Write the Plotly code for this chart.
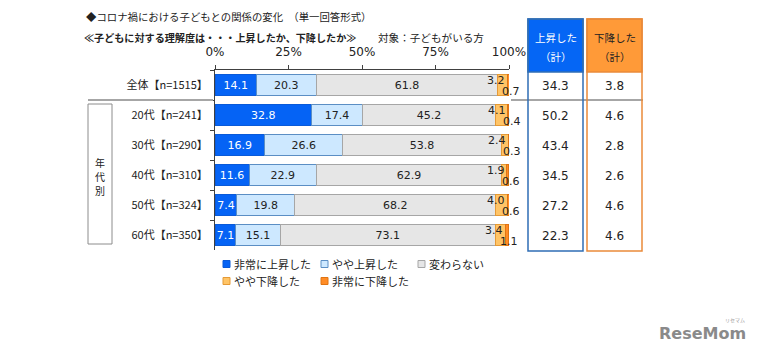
import plotly.graph_objects as go

# ---------------- data ----------------
categories = ["全体【n=1515】", "20代【n=241】", "30代【n=290】",
              "40代【n=310】", "50代【n=324】", "60代【n=350】"]
series_names = ["非常に上昇した", "やや上昇した", "変わらない", "やや下降した", "非常に下降した"]
very_up = [14.1, 32.8, 16.9, 11.6, 7.4, 7.1]
slightly_up = [20.3, 17.4, 26.6, 22.9, 19.8, 15.1]
no_change = [61.8, 45.2, 53.8, 62.9, 68.2, 73.1]
slightly_down = [3.2, 4.1, 2.4, 1.9, 4.0, 3.4]
very_down = [0.7, 0.4, 0.3, 0.6, 0.6, 1.1]
up_total = [34.3, 50.2, 43.4, 34.5, 27.2, 22.3]
down_total = [3.8, 4.6, 2.8, 2.6, 4.6, 4.6]
x_tick_vals = [0, 25, 50, 75, 100]
x_tick_labels = ["0%", "25%", "50%", "75%", "100%"]
title_line1 = "◆コロナ禍における子どもとの関係の変化　（単一回答形式）"
title_line2 = "≪子どもに対する理解度は・・・上昇したか、下降したか≫"
target_text = "対象：子どもがいる方"
group_label = "年代別"
up_header = ["上昇した", "（計）"]
down_header = ["下降した", "（計）"]

# ---------------- styles ----------------
W_FIG, H_FIG = 767, 356
PL, PR, PT, PB = 215, 509, 70, 250  # plot area in pixels
PW, PH = PR - PL, PB - PT

JP = "Noto Sans CJK JP, Meiryo, sans-serif"
NUM = "Verdana, DejaVu Sans, sans-serif"

fills = ["#0563F5", "#CDE8FF", "#E6E6E6", "#FFC466", "#FF8C26"]
borders = ["#0A5AD8", "#5B8EC4", "#A6A6A6", "#E59A36", "#E07412"]
text_colors = ["white", "#222222", "#222222", "#222222", "#222222"]
BLUE_HEAD = "#0566F5"
BLUE_LINE = "#2F6DB5"
ORANGE_HEAD = "#FF9A38"
ORANGE_LINE = "#EA8A3A"


def px_x(p):
    return (p - PL) / PW


def px_y(p):
    return (PB - p) / PH


all_series = [very_up, slightly_up, no_change, slightly_down, very_down]

fig = go.Figure()
for name, vals, fc, bc, tc in zip(series_names, all_series, fills, borders, text_colors):
    fig.add_trace(go.Bar(
        y=categories, x=vals, name=name, orientation="h",
        marker=dict(color=fc, line=dict(color=bc, width=1)),
        text=[f"{v:.1f}" if v >= 5 else "" for v in vals],
        textposition="inside", insidetextanchor="middle", textangle=0,
        textfont=dict(family=NUM, size=11, color=tc),
        showlegend=False, hoverinfo="skip",
    ))

annotations = []
shapes = []

# small orange values
for i, cat in enumerate(categories):
    cum = very_up[i] + slightly_up[i] + no_change[i] + slightly_down[i]
    annotations.append(dict(x=cum, y=cat, xref="x", yref="y", text=f"{slightly_down[i]:.1f}",
                            showarrow=False, xanchor="right", yanchor="middle",
                            xshift=0, yshift=5,
                            font=dict(family=NUM, size=11, color="#222222")))
    annotations.append(dict(x=cum, y=cat, xref="x", yref="y", text=f"{very_down[i]:.1f}",
                            showarrow=False, xanchor="left", yanchor="middle",
                            xshift=-7, yshift=-6,
                            font=dict(family=NUM, size=11, color="#222222")))

# titles
annotations.append(dict(x=px_x(84), y=px_y(17), xref="paper", yref="paper", text=title_line1,
                        showarrow=False, xanchor="left", yanchor="middle",
                        font=dict(family=JP, size=10.4, color="#222222")))
annotations.append(dict(x=px_x(82), y=px_y(37), xref="paper", yref="paper",
                        text=f"<b>{title_line2}</b>",
                        showarrow=False, xanchor="left", yanchor="middle",
                        font=dict(family=JP, size=10.1, color="#222222")))
annotations.append(dict(x=px_x(376), y=px_y(37), xref="paper", yref="paper", text=target_text,
                        showarrow=False, xanchor="left", yanchor="middle",
                        font=dict(family=JP, size=10.6, color="#222222")))

# separator line after 全体
shapes.append(dict(type="line", xref="paper", yref="paper",
                   x0=px_x(88), x1=px_x(213), y0=px_y(100), y1=px_y(100),
                   line=dict(color="#A6A6A6", width=2)))
shapes.append(dict(type="line", xref="paper", yref="paper",
                   x0=px_x(511), x1=px_x(643), y0=px_y(100), y1=px_y(100),
                   line=dict(color="#A6A6A6", width=2)))

# group box
shapes.append(dict(type="rect", xref="paper", yref="paper",
                   x0=px_x(88), x1=px_x(112), y0=px_y(104), y1=px_y(244),
                   line=dict(color="#8C8C8C", width=1)))
for k, ch in enumerate(group_label):
    annotations.append(dict(x=px_x(100), y=px_y(162 + 14 * k), xref="paper", yref="paper",
                            text=ch, showarrow=False, borderpad=0,
                            xanchor="center", yanchor="middle",
                            font=dict(family=JP, size=10, color="#222222")))

# summary table columns
cols = [(528, 583, BLUE_HEAD, BLUE_LINE, up_header, "white", up_total),
        (587, 642, ORANGE_HEAD, ORANGE_LINE, down_header, "#222222", down_total)]
for x0, x1, head, line, htext, hcol, vals in cols:
    shapes.append(dict(type="rect", xref="paper", yref="paper",
                       x0=px_x(x0), x1=px_x(x1), y0=px_y(72), y1=px_y(19),
                       fillcolor=head, line=dict(color=line, width=1.5)))
    shapes.append(dict(type="rect", xref="paper", yref="paper",
                       x0=px_x(x0), x1=px_x(x1), y0=px_y(251), y1=px_y(19),
                       line=dict(color=line, width=1.5)))
    for t, hy in zip(htext, [37, 56]):
        annotations.append(dict(x=px_x((x0 + x1) / 2), y=px_y(hy), xref="paper", yref="paper",
                                text=t, showarrow=False, xanchor="center", yanchor="middle",
                                font=dict(family=JP, size=10.5, color=hcol)))
    for cat, v in zip(categories, vals):
        annotations.append(dict(x=px_x((x0 + x1) / 2), y=cat, xref="paper", yref="y",
                                text=f"{v:.1f}", showarrow=False, xanchor="center",
                                yanchor="middle", yshift=-1,
                                font=dict(family=NUM, size=12, color="#222222")))

# manual legend
legend_pos = [(223, 264), (321, 264), (418, 264), (223, 281), (321, 281)]
for name, (lx, ly), fc, bc in zip(series_names, legend_pos, fills, borders):
    shapes.append(dict(type="rect", xref="paper", yref="paper",
                       x0=px_x(lx), x1=px_x(lx + 7), y0=px_y(ly + 3.5), y1=px_y(ly - 3.5),
                       fillcolor=fc, line=dict(color=bc, width=1)))
    annotations.append(dict(x=px_x(lx + 9), y=px_y(ly), xref="paper", yref="paper",
                            text=name, showarrow=False, xanchor="left", yanchor="middle",
                            font=dict(family=JP, size=11, color="#222222")))

# watermark
annotations.append(dict(x=px_x(702), y=px_y(333), xref="paper", yref="paper",
                        text="<b>ReseMom</b>", showarrow=False, xanchor="center",
                        yanchor="middle",
                        font=dict(family="DejaVu Sans, sans-serif", size=16, color="#8A8A8A")))
annotations.append(dict(x=px_x(735), y=px_y(320), xref="paper", yref="paper",
                        text="リセマム", showarrow=False, xanchor="center",
                        yanchor="middle",
                        font=dict(family=JP, size=5, color="#9A9A9A")))

fig.update_layout(
    width=W_FIG, height=H_FIG,
    margin=dict(l=PL, r=W_FIG - PR, t=PT, b=H_FIG - PB, pad=0),
    barmode="stack", bargap=0.3,
    plot_bgcolor="white", paper_bgcolor="white",
    font=dict(family=JP, size=11, color="#222222"),
    xaxis=dict(range=[0, 100], side="top", tickvals=x_tick_vals, ticktext=x_tick_labels,
               showline=True, linecolor="#404040", linewidth=1,
               ticks="outside", ticklen=4, tickcolor="#404040",
               showgrid=False, zeroline=False, fixedrange=True,
               ticklabelstandoff=4,
               tickfont=dict(family=NUM, size=12, color="#222222")),
    yaxis=dict(type="category", categoryorder="array", categoryarray=categories,
               autorange="reversed", showline=True, linecolor="#404040", linewidth=1,
               ticks="outside", ticklen=4, tickcolor="#404040", tickson="boundaries",
               showgrid=False, zeroline=False, fixedrange=True,
               ticklabelstandoff=4,
               tickfont=dict(family=JP, size=11, color="#222222")),
    uniformtext=dict(minsize=11, mode="show"),
    annotations=annotations, shapes=shapes,
    showlegend=False,
)

fig.write_html("out.html", config={"displayModeBar": False},
               post_script="document.body.style.margin='0';")
